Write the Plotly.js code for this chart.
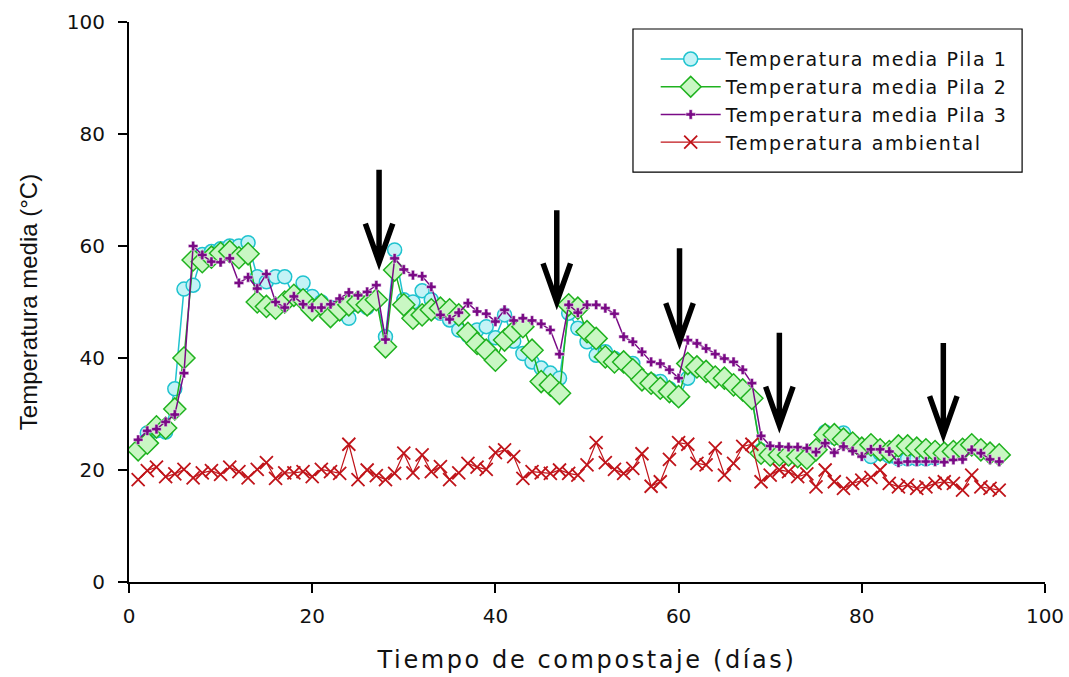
<!DOCTYPE html>
<html>
<head>
<meta charset="utf-8">
<script src="https://cdn.plot.ly/plotly-3.0.1.min.js"></script>
<style>
html,body{margin:0;padding:0;background:#fff;}
#chart{width:1069px;height:677px;}
.xtitle{letter-spacing:2.6px;}
.legendtext{letter-spacing:1.6px;}
</style>
</head>
<body>
<div id="chart"></div>
<script>
// Days 1..95
const days = [1,2,3,4,5,6,7,8,9,10,11,12,13,14,15,16,17,18,19,20,21,22,23,24,25,26,27,28,29,30,31,32,33,34,35,36,37,38,39,40,41,42,43,44,45,46,47,48,49,50,51,52,53,54,55,56,57,58,59,60,61,62,63,64,65,66,67,68,69,70,71,72,73,74,75,76,77,78,79,80,81,82,83,84,85,86,87,88,89,90,91,92,93,94,95];

const pila1 = [23.5,26.6,27,26.8,34.5,52.3,53,58.5,59,59.5,60,60,60.6,54.5,53.6,54.5,54.5,51,53.4,51,50,49,48,47.1,49.5,49,50.5,43.8,59.3,50.4,50,52,50.4,48,46.8,45,44,45,45.6,43.6,47.7,43,40.8,39.3,38.2,37.3,36.4,48,45.3,42.9,40.5,41.1,39.9,39.5,39,36.1,36,35.8,34.5,32.8,36.4,38,37.5,36.8,36.4,35.3,34.3,32.8,23.5,23,23,23,22.8,22.5,23.8,26.8,25.8,26.6,25,24,22.4,23,22.5,22,22,22,22,22.2,23,23.5,23.8,24.2,23.5,23,22.7];

const pila2 = [23.6,24.8,27.7,27.5,30.9,40,57.5,57.2,58,58.7,59,57.9,58.6,50,49.2,48.9,50,51.2,50.4,48.6,49.5,47.4,48.6,49.5,50,49.5,50.4,42,55.7,49.5,47.1,47.7,48.6,48.9,48.6,47.7,44.4,42.6,41.4,39.6,43.2,44.7,45.6,41.4,35.8,35.2,33.7,49.5,48.9,44.7,43.5,40.2,39.3,39.3,37.9,36.1,35.5,34.6,34,33.1,39,38.4,37.6,36.6,36.4,35.2,34.3,32.8,23,22.7,22.7,22.7,22.4,22.1,23.6,26.3,26.3,25.5,24.8,23.9,24.5,23.6,23.3,24.3,24.3,23.9,23.6,23.3,23,23.3,23.7,24.5,23.6,23,22.7];

const pila3 = [25.4,27,27.3,28.6,29.9,37.3,60,58.4,57.2,57.1,57.8,53.4,54.4,52.4,55,50,49,51,49.6,49,49,49.6,50.6,51.7,51.2,51.8,53,43.3,57.8,55.8,54.8,54.6,52.7,47.7,46.9,48.1,49.8,48.3,47.9,46.5,48.6,46.7,47.1,46.7,46.1,45,40.7,49.5,48.1,49.5,49.5,48.9,47.9,43.8,42.9,41.1,39.3,39,37.9,36.4,43.2,42.6,41.7,40.7,39.9,39.3,37.9,35.5,26.1,24.3,24.2,24.1,24.1,23.9,23.2,24.8,23.1,24.2,23.4,22.4,23.7,23.7,23.3,21.3,21.5,21.5,21.5,21.5,21.4,21.8,21.9,23.6,23,21.9,21.5];

const ambiente = [18.3,19.9,20.5,18.8,19.3,20.1,18.6,19.5,19.9,19.2,20.5,19.7,18.6,20.1,21.3,18.5,19.5,19.5,19.7,18.8,20.1,19.7,19.4,24.6,18.3,20,19,18.3,19.4,23,19.5,22.7,19.7,20.6,18.3,19.5,21.2,20.5,20.1,23.1,23.6,22.4,18.5,19.7,19.5,19.4,20,19.4,19.1,20.9,24.9,21.3,20.1,19.4,20.3,22.9,17.1,17.9,21.9,24.9,24.6,21.2,20.9,23.9,19.1,21.2,24.2,24.6,17.9,19.1,20,19.7,18.8,19.3,17,20,17.9,16.7,17.6,18.2,18.7,20,17.6,17,17.3,16.7,17,17.6,17.9,17.6,16.4,19.1,17,16.7,16.4];

const seriesNames = ["Temperatura media Pila 1","Temperatura media Pila 2","Temperatura media Pila 3","Temperatura ambiental"];

// Arrows marking turning events (day, tip value, top value)
const arrowDay = [27.3, 46.7, 60.1, 71.0, 88.9];
const arrowTip = [57.1, 50.0, 42.9, 28.0, 26.3];
const arrowTop = [73.6, 66.4, 59.6, 44.5, 42.7];

const traces = [
  {x: days, y: pila1, name: seriesNames[0], type: 'scatter', mode: 'lines+markers',
   line: {color: '#1fc3cf', width: 1.5},
   marker: {symbol: 'circle', size: 14, color: '#c4f3f6', line: {color: '#1fc3cf', width: 1.5}}},
  {x: days, y: pila2, name: seriesNames[1], type: 'scatter', mode: 'lines+markers',
   line: {color: '#1fb21f', width: 1.5},
   marker: {symbol: 'diamond', size: 17, color: '#c9f7c3', line: {color: '#1fb21f', width: 1.5}}},
  {x: days, y: pila3, name: seriesNames[2], type: 'scatter', mode: 'lines+markers',
   line: {color: '#7a0a86', width: 1.5},
   marker: {symbol: 'cross', size: 8, color: '#7a0a86', line: {color: '#ffffff', width: 0.5}}},
  {x: days, y: ambiente, name: seriesNames[3], type: 'scatter', mode: 'lines+markers',
   line: {color: '#c0141a', width: 1.2},
   marker: {symbol: 'x-thin', size: 13, color: '#c0141a', line: {color: '#c0141a', width: 1.8}}}
];

const shapes = arrowDay.map((d, i) => ({
  type: 'path', xref: 'x', yref: 'y',
  path: `M ${d},${arrowTop[i]} L ${d},${arrowTip[i]} M ${d-1.5},${arrowTip[i]+6.9} L ${d},${arrowTip[i]} L ${d+1.5},${arrowTip[i]+6.9}`,
  line: {color: '#000000', width: 5.5}
}));
// legend frame
shapes.push({type: 'rect', xref: 'paper', yref: 'paper', layer: 'below',
  x0: 0.5502, x1: 0.975, y0: 0.732, y1: 0.9875,
  line: {color: '#000000', width: 1.2}, fillcolor: '#ffffff'});

const layout = {
  width: 1069, height: 677,
  margin: {l: 129, r: 24, t: 22, b: 95},
  paper_bgcolor: '#ffffff', plot_bgcolor: '#ffffff',
  font: {family: 'DejaVu Sans, Arial, sans-serif', color: '#111111', size: 18},
  showlegend: true,
  legend: {x: 0.575, y: 0.9675, xanchor: 'left', yanchor: 'top',
    bgcolor: 'rgba(0,0,0,0)', borderwidth: 0,
    font: {family: 'DejaVu Sans, Arial, sans-serif', size: 19, color: '#111111'},
    itemwidth: 60, tracegroupgap: 0},
  xaxis: {range: [0, 100], dtick: 20, tick0: 0, showgrid: false, zeroline: false,
    showline: true, linecolor: '#000000', linewidth: 2, ticks: 'outside', ticklen: 9,
    tickwidth: 2, tickcolor: '#000000', mirror: false, ticklabelstandoff: 6,
    tickfont: {family: 'DejaVu Sans, Arial, sans-serif', size: 20, color: '#111111'},
    title: {text: 'Tiempo de compostaje (días)', standoff: 24,
      font: {family: 'DejaVu Sans, Arial, sans-serif', size: 24, color: '#111111'}}},
  yaxis: {range: [0, 100], dtick: 20, tick0: 0, showgrid: false, zeroline: false,
    showline: true, linecolor: '#000000', linewidth: 2, ticks: 'outside', ticklen: 9,
    tickwidth: 2, tickcolor: '#000000', mirror: false, ticklabelstandoff: 9,
    tickfont: {family: 'DejaVu Sans, Arial, sans-serif', size: 20, color: '#111111'},
    title: {text: 'Temperatura media (°C)', standoff: 22,
      font: {family: 'Liberation Sans, Arial, sans-serif', size: 24, color: '#111111'}}},
  shapes: shapes
};

Plotly.newPlot('chart', traces, layout, {staticPlot: true, displayModeBar: false});
</script>
</body>
</html>
